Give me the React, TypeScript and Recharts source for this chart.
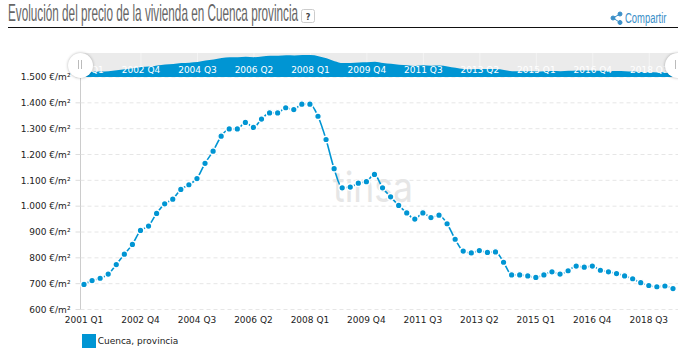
import React from "react";
import { LineChart, Line, AreaChart, Area, XAxis, YAxis, CartesianGrid, Legend } from "recharts";

const quarters = [
  "2001 Q1","2001 Q2","2001 Q3","2001 Q4","2002 Q1","2002 Q2","2002 Q3","2002 Q4",
  "2003 Q1","2003 Q2","2003 Q3","2003 Q4","2004 Q1","2004 Q2","2004 Q3","2004 Q4",
  "2005 Q1","2005 Q2","2005 Q3","2005 Q4","2006 Q1","2006 Q2","2006 Q3","2006 Q4",
  "2007 Q1","2007 Q2","2007 Q3","2007 Q4","2008 Q1","2008 Q2","2008 Q3","2008 Q4",
  "2009 Q1","2009 Q2","2009 Q3","2009 Q4","2010 Q1","2010 Q2","2010 Q3","2010 Q4",
  "2011 Q1","2011 Q2","2011 Q3","2011 Q4","2012 Q1","2012 Q2","2012 Q3","2012 Q4",
  "2013 Q1","2013 Q2","2013 Q3","2013 Q4","2014 Q1","2014 Q2","2014 Q3","2014 Q4",
  "2015 Q1","2015 Q2","2015 Q3","2015 Q4","2016 Q1","2016 Q2","2016 Q3","2016 Q4",
  "2017 Q1","2017 Q2","2017 Q3","2017 Q4","2018 Q1","2018 Q2","2018 Q3","2018 Q4",
  "2019 Q1","2019 Q2",
];
const prices = [
  697,712,721,737,774,814,852,906,923,972,1009,1027,1065,1083,1107,1166,1213,1271,1299,1299,
  1324,1305,1337,1361,1361,1381,1374,1395,1395,1348,1258,1145,1071,1074,1089,1095,1123,1071,1036,1003,
  974,950,974,956,965,932,872,826,819,828,821,823,783,734,734,730,724,734,746,737,
  750,768,764,768,752,746,739,730,719,704,693,688,691,681,
];
const yTicks = [600,700,800,900,1000,1100,1200,1300,1400,1500];
const seriesName = "Cuenca, provincia";
const titleText = "Evolución del precio de la vivienda en Cuenca provincia";

const rows = quarters.map((q, i) => ({ q, v: prices[i] }));
const BLUE = "#0095d3";
const LABEL_FONT = "'DejaVu Sans', sans-serif";

const fmt = (v: number) => (v >= 1000 ? `${Math.floor(v / 1000)}.${String(v % 1000).padStart(3, "0")}` : `${v}`) + " €/m²";

function Handle({ left }: { left: number }) {
  return (
    <div style={{ position: "absolute", left, top: 53, width: 25, height: 25, borderRadius: "50%", background: "#fff", boxShadow: "0 0 3px rgba(0,0,0,0.3)" }}>
      <div style={{ position: "absolute", left: 10, top: 7, width: 1, height: 9, background: "#bbb" }} />
      <div style={{ position: "absolute", left: 13, top: 7, width: 1, height: 9, background: "#bbb" }} />
    </div>
  );
}

export default function App() {
  return (
    <div style={{ position: "absolute", left: 0, top: 0, width: 695, height: 356, background: "#fff", overflow: "hidden" }}>
      <svg width={695} height={356} style={{ position: "absolute", left: 0, top: 0 }}>
        <text transform="translate(8,21) scale(0.51,1)" fontFamily="'Liberation Sans',sans-serif" fontSize={23} fill="#666">{titleText}</text>
        <line x1={8} x2={678} y1={27.5} y2={27.5} stroke="#111" strokeWidth={1} />
        <rect x={301.5} y={9.5} width={13} height={13} rx={2} fill="#fff" stroke="#ccc" />
        <text x={308} y={19.5} textAnchor="middle" fontFamily="'DejaVu Sans',sans-serif" fontWeight="bold" fontSize={8} fill="#444">?</text>
        <g stroke="#3a8fc8" fill="#3a8fc8" strokeWidth={1}>
          <line x1={613} y1={18} x2={620} y2={14} />
          <line x1={613} y1={18} x2={620} y2={22.5} />
          <circle cx={613} cy={18} r={2} />
          <circle cx={620} cy={14} r={2} />
          <circle cx={620} cy={22.5} r={2} />
        </g>
        <text transform="translate(625,23) scale(0.63,1)" fontFamily="'Liberation Sans',sans-serif" fontSize={15} fill="#3a8fc8">Compartir</text>
        <text x={333} y={202} textLength={80} lengthAdjust="spacingAndGlyphs" fontFamily="Inter, sans-serif" fontWeight={400} fontSize={42} fill="#e6e6e6">tinsa</text>
      </svg>

      <div style={{ position: "absolute", left: 0, top: 0 }}>
        <LineChart width={695} height={356} data={rows} margin={{ top: 77, right: 17, bottom: 0, left: 0 }}>
          <CartesianGrid vertical={false} stroke="#e6e6e6" strokeDasharray="4 3" />
          <XAxis dataKey="q" scale="point" padding={{ left: 3.5, right: 5 }} interval={6} axisLine={false} tickLine={false} tickMargin={1} height={46.5}
            tick={{ fontFamily: LABEL_FONT, fontSize: 9, fill: "#222" }} />
          <YAxis width={80.5} domain={[600, 1500]} ticks={yTicks} tickFormatter={fmt} tickLine={{ stroke: "#ddd" }} axisLine={{ stroke: "#ccc" }} tickSize={5} tickMargin={5}
            tick={{ fontFamily: LABEL_FONT, fontSize: 9, fill: "#222" }} />
          <Line dataKey="v" name={seriesName} type="monotone" stroke={BLUE} strokeWidth={1.6} isAnimationActive={false}
            dot={{ r: 3.3, fill: BLUE, stroke: "#fff", strokeWidth: 1.4 }} />
          <Legend layout="horizontal" verticalAlign="middle" align="center" iconType="square" iconSize={14}
            wrapperStyle={{ position: "absolute", left: 35, top: 334, width: 200, fontFamily: LABEL_FONT, fontSize: 9, transform: "none" }}
            formatter={(value: string) => <span style={{ color: "#222", marginLeft: -2 }}>{value}</span>} />
        </LineChart>
      </div>

      <div style={{ position: "absolute", left: 80.5, top: 53 }}>
        <AreaChart width={597.5} height={24} data={rows} margin={{ top: 0, right: 0, bottom: 0, left: 0 }} style={{ background: "#ebebeb", overflow: "visible" }}>
          <YAxis hide domain={[500, 1476]} />
          <Area dataKey="v" type="monotone" stroke={BLUE} fill={BLUE} fillOpacity={1} strokeWidth={0} dot={false} isAnimationActive={false} />
          <CartesianGrid horizontal={false} stroke="#fff" strokeOpacity={0.45} />
          <XAxis dataKey="q" scale="point" padding={{ left: 3.5, right: 5 }} interval={6} mirror axisLine={false} tickLine={false} tickMargin={2}
            tick={{ fontFamily: LABEL_FONT, fontSize: 9, fill: "#fff", dy: 4 }} />
        </AreaChart>
      </div>

      <Handle left={67.5} />
      <div style={{ position: "absolute", left: 660, top: 48, width: 18, height: 36, overflow: "hidden" }}>
        <div style={{ position: "absolute", left: -660, top: -48, width: 695, height: 356 }}>
          <Handle left={665} />
        </div>
      </div>
    </div>
  );
}
